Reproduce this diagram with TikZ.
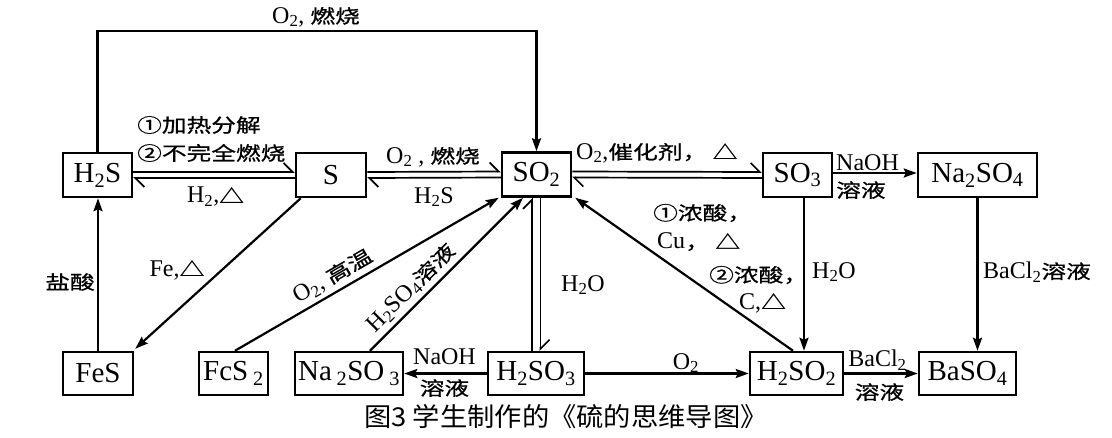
\documentclass[tikz,border=0pt]{standalone}
\usepackage{fontspec}
\setmainfont{Liberation Serif}
\newfontfamily\cjk[FakeStretch=1.3,FakeBold=0.8]{Noto Sans CJK SC}
\newfontfamily\capfont[FakeStretch=1.05]{Noto Sans CJK SC}
\usetikzlibrary{arrows.meta}
\newcommand\zh[1]{{\fontsize{19}{19}\cjk #1}}
\newcommand\ssb[1]{\textsubscript{#1}}
\begin{document}
\begin{tikzpicture}[x=1pt,y=-1pt,
  box/.style={draw, line width=2.5pt, minimum height=44pt, inner sep=0pt, font=\fontsize{29}{29}\selectfont},
  lab/.style={inner sep=0pt, font=\fontsize{24}{24}\selectfont},
  arr/.style={line width=2.2pt, -{Stealth[length=13pt,width=9pt,inset=2pt]}},
  harp/.style={line width=1.7pt, -{Straight Barb[harpoon,length=9pt,width=18pt]}}]
\fill[white] (0,0) rectangle (1112,437);
\useasboundingbox (0,0) rectangle (1112,437);
% boxes
\node[box, minimum width=69pt] (h2s) at (97.5,175) {H\ssb{2}S};
\node[box, minimum width=70pt] (s) at (331,175) {S};
\node[box, minimum width=69pt] (so2) at (536.5,174.5) {SO\ssb{2}};
\node[box, minimum width=69pt] (so3) at (797.5,175) {SO\ssb{3}};
\node[box, minimum width=119pt] (na2so4) at (977.5,175) {Na\ssb{2}SO\ssb{4}};
\node[box, minimum width=70pt, minimum height=43pt] (fes) at (98,373.5) {FeS};
\node[box, minimum width=69pt, minimum height=43pt] (fes2) at (233.5,373.5) {FcS\,\ssb{2}};
\node[box, minimum width=108pt, minimum height=43pt] (na2so3) at (349,373.5) {Na\,\ssb{2}SO\,\ssb{3}};
\node[box, minimum width=96pt, minimum height=43pt] (h2so3) at (536,373.5) {H\ssb{2}SO\ssb{3}};
\node[box, minimum width=93pt, minimum height=43pt] (h2so4) at (796.5,373.5) {H\ssb{2}SO\ssb{2}};
\node[box, minimum width=97pt, minimum height=43pt] (baso4) at (967.5,373.5) {BaSO\ssb{4}};
% top path
\coordinate (top) at (316,31);
\draw[arr] (h2s.north) |- (top) -| (so2.north);
\node[lab] (lt) at (316,17) {O\ssb{2}, \zh{燃烧}};
% double harpoons
\draw[harp] ([yshift=3pt]h2s.east) -- ([yshift=3pt]s.west);
\draw[harp] ([yshift=-3pt]s.west) -- ([yshift=-3pt]h2s.east);
\draw[harp] ([yshift=3pt]s.east) -- ([yshift=3pt]so2.west);
\draw[harp] ([yshift=-3pt]so2.west) -- ([yshift=-3pt]s.east);
\draw[harp] ([yshift=3pt]so2.east) -- ([yshift=3pt]so3.west);
\draw[harp] ([yshift=-3pt]so3.west) -- ([yshift=-3pt]so2.east);
\draw[harp] ([xshift=-4pt]h2so3.north) -- ([xshift=-4pt]h2so3.north |- so2.south);
\draw[harp] ([xshift=4pt]so2.south) -- ([xshift=4pt]so2.south |- h2so3.north);
% arrows
\draw[arr] ([yshift=2pt]so3.east) -- ([yshift=2pt]na2so4.west);
\draw[arr] (na2so4.south) -- (na2so4.south |- baso4.north);
\draw[arr] ([xshift=6.5pt]so3.south) -- ([xshift=6.5pt]so3.south |- h2so4.north);
\draw[arr] ([xshift=6pt]s.south west) -- ([xshift=1pt,yshift=2pt]fes.north east);
\draw[arr] (fes.north) -- (fes.north |- h2s.south);
\draw[arr] ([xshift=1.5pt]fes2.north) -- node[lab, sloped, above=4pt, pos=0.40] (l10) {O\ssb{2}, \zh{高温}} ([xshift=-2pt]so2.south west);
\draw[arr] ([xshift=21pt]na2so3.north) -- node[lab, sloped, above=4pt, pos=0.34] (l11) {H\ssb{2}SO\ssb{4}\zh{溶液}} ([xshift=-13.5pt]so2.south);
\draw[arr] (h2so3.west) -- (na2so3.east);
\draw[arr] (h2so3.east) -- (h2so4.west);
\draw[arr] (h2so4.east) -- (baso4.west);
\draw[arr] ([xshift=-3.5pt]h2so4.north) -- ([xshift=3pt]so2.south east);
% labels
\node[lab, anchor=west] (l1a) at (137,125) {\zh{①加热分解}};
\node[lab, anchor=west] (l1b) at (137,153) {\zh{②不完全燃烧}};
\node[lab] (l2) at (215.5,197) {H\ssb{2},\zh{△}};
\node[lab] (l3) at (433,157) {O\ssb{2} , \zh{燃烧}};
\node[lab] (l4) at (434,197) {H\ssb{2}S};
\node[lab, anchor=west] (l5) at (576,153) {O\ssb{2},\zh{催化剂，\ △}};
\node[lab, anchor=west] (l6) at (836,163) {NaOH};
\node[lab, anchor=west] (l7) at (836,190) {\zh{溶液}};
\node[lab] (l8) at (70,282) {\zh{盐酸}};
\node[lab] (l9) at (177,270) {Fe,\zh{△}};
\node[lab] (l12) at (583,285) {H\ssb{2}O};
\node[lab, anchor=west] (l13) at (653,213) {\zh{①浓酸，}};
\node[lab, anchor=west] (l14) at (657,242) {Cu\zh{，\ △}};
\node[lab, anchor=west] (l15) at (709,275) {\zh{②浓酸，}};
\node[lab, anchor=west] (l16) at (739,303) {C,\zh{△}};
\node[lab] (l17) at (834,272) {H\ssb{2}O};
\node[lab, anchor=west] (l18) at (983,272) {BaCl\ssb{2}\zh{溶液}};
\node[lab] (l19) at (444.5,357) {NaOH};
\node[lab] (l20) at (444.5,388) {\zh{溶液}};
\node[lab] (l21) at (686,363) {O\ssb{2}};
\node[lab] (l22) at (877.5,360) {BaCl\ssb{2}};
\node[lab] (l23) at (879.5,392) {\zh{溶液}};
\node[inner sep=0pt, font=\fontsize{26}{26}\capfont] (cap) at (566,417) {图3 学生制作的《硫的思维导图》};
\end{tikzpicture}
\end{document}
